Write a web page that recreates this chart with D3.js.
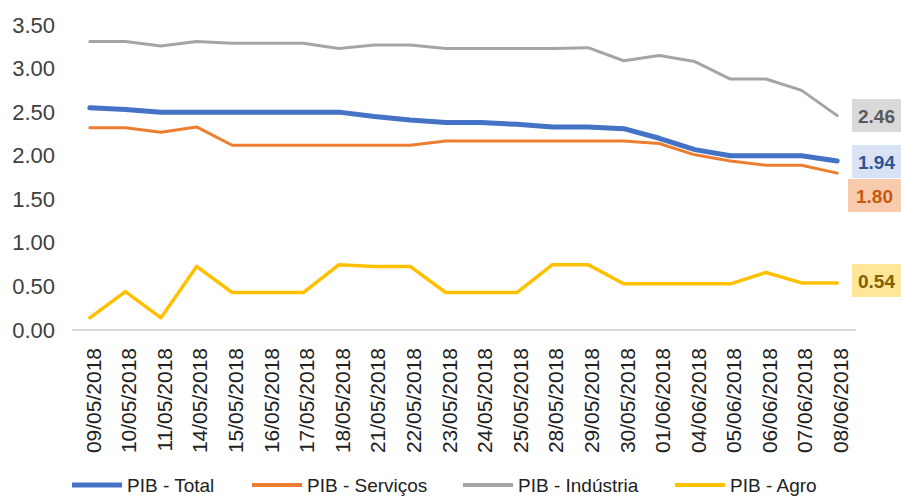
<!DOCTYPE html>
<html>
<head>
<meta charset="utf-8">
<script src="https://cdn.jsdelivr.net/npm/d3@7"></script>
<style>
  body { margin: 0; background: #fff; }
  svg { display: block; font-family: Arial, "Liberation Sans", sans-serif; }
</style>
</head>
<body>
<div id="chart"></div>
<script>
// dates on the x axis
const dates = ["09/05/2018", "10/05/2018", "11/05/2018", "14/05/2018", "15/05/2018", "16/05/2018",
  "17/05/2018", "18/05/2018", "21/05/2018", "22/05/2018", "23/05/2018", "24/05/2018", "25/05/2018",
  "28/05/2018", "29/05/2018", "30/05/2018", "01/06/2018", "04/06/2018", "05/06/2018", "06/06/2018",
  "07/06/2018", "08/06/2018"];

const pibTotal = [2.55, 2.53, 2.50, 2.50, 2.50, 2.50, 2.50, 2.50, 2.45, 2.41, 2.38, 2.38, 2.36,
  2.33, 2.33, 2.31, 2.20, 2.07, 2.00, 2.00, 2.00, 1.94];
const pibServicos = [2.32, 2.32, 2.27, 2.33, 2.12, 2.12, 2.12, 2.12, 2.12, 2.12, 2.17, 2.17, 2.17,
  2.17, 2.17, 2.17, 2.14, 2.01, 1.94, 1.89, 1.89, 1.80];
const pibIndustria = [3.31, 3.31, 3.26, 3.31, 3.29, 3.29, 3.29, 3.23, 3.27, 3.27, 3.23, 3.23, 3.23,
  3.23, 3.24, 3.09, 3.15, 3.08, 2.88, 2.88, 2.75, 2.46];
const pibAgro = [0.14, 0.44, 0.14, 0.73, 0.43, 0.43, 0.43, 0.75, 0.73, 0.73, 0.43, 0.43, 0.43,
  0.75, 0.75, 0.53, 0.53, 0.53, 0.53, 0.66, 0.54, 0.54];

const yTicks = [0, 0.5, 1, 1.5, 2, 2.5, 3, 3.5];

const series = [
  {name: "PIB - Total", values: pibTotal, color: "#4472c4", width: 5,
    box: "#dae3f3", text: "#2f5597", boxTop: 145},
  {name: "PIB - Serviços", values: pibServicos, color: "#ed7d31", width: 3,
    box: "#f8cbad", text: "#c55a11", boxTop: 179, boxLeft: 848},
  {name: "PIB - Indústria", values: pibIndustria, color: "#a5a5a5", width: 3,
    box: "#d9d9d9", text: "#595959", boxTop: 99},
  {name: "PIB - Agro", values: pibAgro, color: "#ffc000", width: 3.5,
    box: "#ffe699", text: "#806000", boxTop: 264}
];

const W = 901, H = 498;

const svg = d3.select("#chart").append("svg")
  .attr("width", W)
  .attr("height", H);

const x = d3.scalePoint()
  .domain(dates)
  .range([72, 855])
  .padding(0.5);

const y = d3.scaleLinear()
  .domain([0, 3.5])
  .range([330, 25]);

// y axis, labels only
const yAxis = svg.append("g")
  .attr("transform", "translate(55,0)")
  .call(d3.axisLeft(y).tickValues(yTicks).tickSize(0).tickPadding(0).tickFormat(d3.format(".2f")));
yAxis.select(".domain").remove();
yAxis.selectAll("text")
  .style("font-size", "22px")
  .attr("fill", "#404040");

// baseline
svg.append("line")
  .attr("x1", 72).attr("x2", 856)
  .attr("y1", y(0)).attr("y2", y(0))
  .attr("stroke", "#d9d9d9")
  .attr("stroke-width", 2);

// x axis, rotated dates
const xAxis = svg.append("g")
  .attr("transform", "translate(0," + y(0) + ")")
  .call(d3.axisBottom(x).tickSize(0));
xAxis.select(".domain").remove();
xAxis.selectAll("text")
  .style("font-size", "21px")
  .attr("fill", "#222")
  .attr("text-anchor", "end")
  .attr("dy", "0.35em")
  .attr("transform", "translate(3,18) rotate(-90)")
  .attr("x", 0)
  .attr("y", 0);

const line = d3.line()
  .x((d, i) => x(dates[i]))
  .y(d => y(d));

// draw order: grey, yellow, orange, blue on top
[series[2], series[3], series[1], series[0]].forEach(s => {
  svg.append("path")
    .datum(s.values)
    .attr("fill", "none")
    .attr("stroke", s.color)
    .attr("stroke-width", s.width)
    .attr("stroke-linejoin", "round")
    .attr("stroke-linecap", "round")
    .attr("d", line);
});

// end value boxes
series.forEach(s => {
  const left = s.boxLeft || 852;
  const g = svg.append("g");
  g.append("rect")
    .attr("x", left)
    .attr("y", s.boxTop)
    .attr("width", 901 - left)
    .attr("height", 33)
    .attr("fill", s.box);
  g.append("text")
    .attr("x", left + (901 - left) / 2)
    .attr("y", s.boxTop + 17)
    .attr("dy", "0.35em")
    .attr("text-anchor", "middle")
    .style("font-size", "19px")
    .style("font-weight", "bold")
    .attr("fill", s.text)
    .text(d3.format(".2f")(s.values[s.values.length - 1]));
});

// legend
const legendX = [72, 252, 463, 675];
const legend = svg.append("g");
series.forEach((s, i) => {
  const g = legend.append("g").attr("transform", "translate(" + legendX[i] + ",485)");
  g.append("line")
    .attr("x1", 0).attr("x2", 50)
    .attr("stroke", s.color)
    .attr("stroke-width", i === 0 ? 5 : 4);
  g.append("text")
    .attr("x", 55)
    .attr("y", 7)
    .style("font-size", "19px")
    .attr("fill", "#222")
    .text(s.name);
});
</script>
</body>
</html>
